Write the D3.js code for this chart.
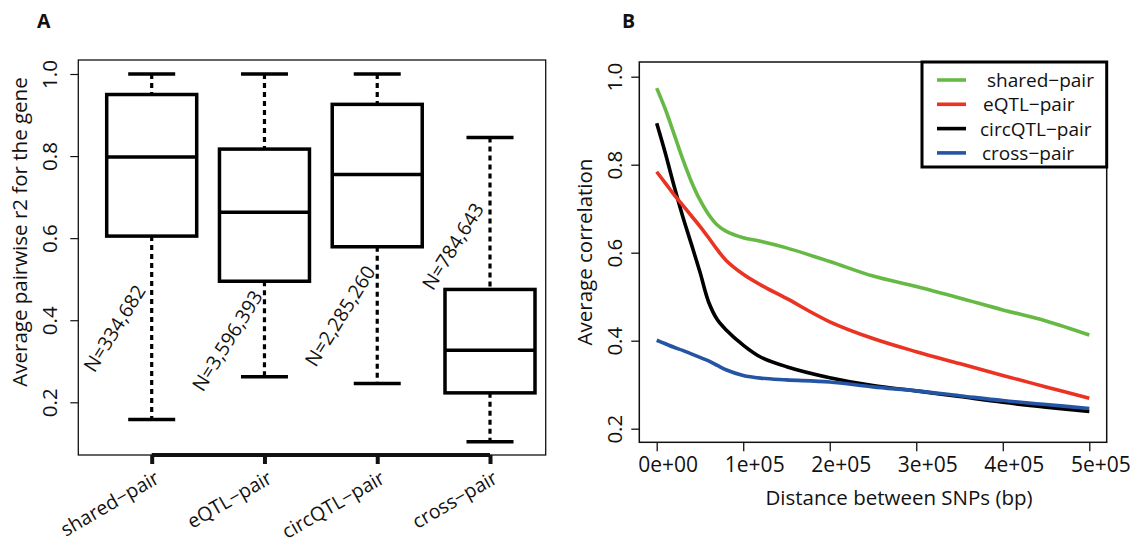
<!DOCTYPE html>
<html>
<head>
<meta charset="utf-8">
<script src="https://cdn.jsdelivr.net/npm/d3@7"></script>
<style>
  body { margin: 0; background: #fff; }
  svg text { font-family: "Open Sans", "Noto Sans", sans-serif; fill: #111; }
  .panel { font-weight: bold; font-size: 19.5px; }
</style>
</head>
<body>
<svg width="1133" height="543"></svg>
<script>
// ---- panel A: boxplot data ----
var groups = ["shared\u2212pair", "eQTL\u2212pair", "circQTL\u2212pair", "cross\u2212pair"];
var nLabels = ["N=334,682", "N=3,596,393", "N=2,285,260", "N=784,643"];
var nLabelAt = [0.38, 0.35, 0.41, 0.58];   // r2 value where each N label sits
var whiskerLo = [0.158, 0.262, 0.246, 0.104];
var q1 = [0.605, 0.495, 0.579, 0.223];
var median = [0.798, 0.663, 0.755, 0.327];
var q3 = [0.950, 0.817, 0.926, 0.475];
var whiskerHi = [1.0, 1.0, 1.0, 0.845];
var yTicksA = [0.2, 0.4, 0.6, 0.8, 1.0];

// ---- panel B: correlation vs distance ----
var distance = [0, 10000, 20000, 30000, 40000, 50000, 60000, 70000, 80000, 100000,
  120000, 150000, 200000, 250000, 300000, 350000, 400000, 450000, 500000];
var sharedPair = [0.974, 0.926, 0.870, 0.813, 0.762, 0.720, 0.687, 0.663, 0.649, 0.634,
  0.626, 0.611, 0.580, 0.547, 0.523, 0.497, 0.470, 0.445, 0.413];
var eqtlPair = [0.784, 0.758, 0.732, 0.708, 0.684, 0.660, 0.634, 0.607, 0.583, 0.551,
  0.527, 0.496, 0.443, 0.405, 0.375, 0.348, 0.321, 0.295, 0.269];
var circPair = [0.894, 0.826, 0.752, 0.683, 0.620, 0.556, 0.488, 0.448, 0.425, 0.390,
  0.363, 0.341, 0.316, 0.298, 0.286, 0.273, 0.260, 0.249, 0.239];
var crossPair = [0.401, 0.393, 0.385, 0.378, 0.370, 0.362, 0.354, 0.344, 0.334, 0.321,
  0.315, 0.311, 0.306, 0.295, 0.286, 0.275, 0.264, 0.255, 0.246];
var seriesNames = ["shared\u2212pair", "eQTL\u2212pair", "circQTL\u2212pair", "cross\u2212pair"];
var seriesColors = ["#67b946", "#ea3323", "#000000", "#2455a4"];
var xTicksB = [0, 100000, 200000, 300000, 400000, 500000];
var yTicksB = [0.2, 0.4, 0.6, 0.8, 1.0];

var fs = 20.5;
const svg = d3.select('svg');

// ================= panel A =================
var A = { left: 78.3, right: 545.7, top: 60, bottom: 455 };
const gA = svg.append('g');

const xA = d3.scaleLinear().domain([0, groups.length - 1]).range([151.7, 490]);
const yA = d3.scaleLinear().domain([0.2, 1.0]).range([402.3, 74]);
var boxW = 90, capW = 47;

gA.append('text').attr('class', 'panel').attr('x', 37).attr('y', 28).text('A');

// frame
gA.append('rect')
  .attr('x', A.left).attr('y', A.top)
  .attr('width', A.right - A.left).attr('height', A.bottom - A.top)
  .attr('fill', 'none').attr('stroke', '#111').attr('stroke-width', 1.3);

// y axis
const yAxisA = d3.axisLeft(yA).tickValues(yTicksA).tickSize(8).tickFormat(d3.format('.1f'));
const yAxisGA = gA.append('g').attr('transform', `translate(${A.left},0)`).call(yAxisA);
yAxisGA.select('.domain').remove();
yAxisGA.selectAll('line').attr('stroke', '#111').attr('stroke-width', 1.2);
yAxisGA.selectAll('.tick text')
  .attr('font-size', fs)
  .attr('x', 0).attr('y', 0).attr('dy', null)
  .attr('text-anchor', 'middle')
  .attr('transform', `translate(${57 - A.left},0) rotate(-90)`);

gA.append('text')
  .attr('transform', 'translate(27,232) rotate(-90)')
  .attr('text-anchor', 'middle')
  .attr('font-size', fs)
  .text('Average pairwise r2 for the gene');

// x axis: thick line from first to last tick
const xAxisA = d3.axisBottom(xA).tickValues(d3.range(groups.length)).tickSize(9).tickFormat('');
const xAxisGA = gA.append('g').attr('transform', `translate(0,${A.bottom})`).call(xAxisA);
xAxisGA.select('.domain').attr('stroke', '#111').attr('stroke-width', 4)
  .attr('d', `M${xA(0)},0H${xA(groups.length - 1)}`);
xAxisGA.selectAll('.tick line').attr('stroke', '#111').attr('stroke-width', 4);

gA.selectAll('.xlab').data(groups).enter().append('text')
  .attr('class', 'xlab')
  .attr('transform', (d, i) => `translate(${xA(i) + 9},${482}) rotate(-30)`)
  .attr('text-anchor', 'end')
  .attr('font-size', 19.5)
  .text(d => d);

// boxes
var boxes = gA.selectAll('.box').data(groups).enter().append('g').attr('class', 'box');

boxes.append('line')
  .attr('x1', (d, i) => xA(i)).attr('x2', (d, i) => xA(i))
  .attr('y1', (d, i) => yA(whiskerHi[i])).attr('y2', (d, i) => yA(q3[i]))
  .attr('stroke', '#000').attr('stroke-width', 3.2).attr('stroke-dasharray', '5,4');
boxes.append('line')
  .attr('x1', (d, i) => xA(i)).attr('x2', (d, i) => xA(i))
  .attr('y1', (d, i) => yA(q1[i])).attr('y2', (d, i) => yA(whiskerLo[i]))
  .attr('stroke', '#000').attr('stroke-width', 3.2).attr('stroke-dasharray', '5,4');

[whiskerHi, whiskerLo].forEach(function (arr) {
  boxes.append('line')
    .attr('x1', (d, i) => xA(i) - capW / 2).attr('x2', (d, i) => xA(i) + capW / 2)
    .attr('y1', (d, i) => yA(arr[i])).attr('y2', (d, i) => yA(arr[i]))
    .attr('stroke', '#000').attr('stroke-width', 3.5);
});

boxes.append('rect')
  .attr('x', (d, i) => xA(i) - boxW / 2)
  .attr('y', (d, i) => yA(q3[i]))
  .attr('width', boxW)
  .attr('height', (d, i) => yA(q1[i]) - yA(q3[i]))
  .attr('fill', '#fff').attr('stroke', '#000').attr('stroke-width', 3.5);

boxes.append('line')
  .attr('x1', (d, i) => xA(i) - boxW / 2).attr('x2', (d, i) => xA(i) + boxW / 2)
  .attr('y1', (d, i) => yA(median[i])).attr('y2', (d, i) => yA(median[i]))
  .attr('stroke', '#000').attr('stroke-width', 3.5);

// N labels
boxes.append('text')
  .attr('transform', (d, i) => `translate(${xA(i) - 37},${yA(nLabelAt[i])}) rotate(-58)`)
  .attr('text-anchor', 'middle')
  .attr('dy', '0.35em')
  .attr('font-size', 19.5)
  .text((d, i) => nLabels[i]);

// ================= panel B =================
var B = { left: 639.3, right: 1106.7, top: 62, bottom: 442.3 };
const gB = svg.append('g');

const xB = d3.scaleLinear().domain([0, 500000]).range([656.7, 1089.3]);
const yB = d3.scaleLinear().domain([0.2, 1.0]).range([428.7, 76.7]);

gB.append('text').attr('class', 'panel').attr('x', 622).attr('y', 28).text('B');

gB.append('rect')
  .attr('x', B.left).attr('y', B.top)
  .attr('width', B.right - B.left).attr('height', B.bottom - B.top)
  .attr('fill', 'none').attr('stroke', '#111').attr('stroke-width', 1.5);

const xAxisB = d3.axisBottom(xB).tickValues(xTicksB).tickSize(9)
  .tickFormat(d => (d / 100000) + 'e+' + (d === 0 ? '00' : '05'));
const xAxisGB = gB.append('g').attr('transform', `translate(0,${B.bottom})`).call(xAxisB);
xAxisGB.select('.domain').remove();
xAxisGB.selectAll('line').attr('stroke', '#111').attr('stroke-width', 1.3);
xAxisGB.selectAll('text').attr('font-size', 21).attr('x', 11).attr('y', 29.5).attr('dy', 0);

const yAxisB = d3.axisLeft(yB).tickValues(yTicksB).tickSize(8).tickFormat(d3.format('.1f'));
const yAxisGB = gB.append('g').attr('transform', `translate(${B.left},0)`).call(yAxisB);
yAxisGB.select('.domain').remove();
yAxisGB.selectAll('line').attr('stroke', '#111').attr('stroke-width', 1.3);
yAxisGB.selectAll('.tick text')
  .attr('x', 0).attr('dy', null)
  .attr('font-size', fs)
  .attr('text-anchor', 'middle')
  .attr('transform', `translate(${622 - B.left},0) rotate(-90)`);

gB.append('text')
  .attr('transform', 'translate(592,252) rotate(-90)')
  .attr('text-anchor', 'middle')
  .attr('font-size', fs)
  .text('Average correlation');

gB.append('text')
  .attr('x', 899).attr('y', 505)
  .attr('text-anchor', 'middle')
  .attr('font-size', fs)
  .text('Distance between SNPs (bp)');

var allSeries = [sharedPair, eqtlPair, circPair, crossPair];
const line = d3.line()
  .x((d, i) => xB(distance[i]))
  .y(d => yB(d))
  .curve(d3.curveCatmullRom.alpha(0.5));

// draw order: green, black, red, blue
[0, 2, 1, 3].forEach(function (k) {
  gB.append('path')
    .datum(allSeries[k])
    .attr('d', line)
    .attr('fill', 'none')
    .attr('stroke', seriesColors[k])
    .attr('stroke-width', 3.6)
    .attr('stroke-linejoin', 'round');
});

// legend
var leg = gB.append('g');
leg.append('rect')
  .attr('x', 922).attr('y', 62)
  .attr('width', B.right - 922).attr('height', 105)
  .attr('fill', '#fff').attr('stroke', '#000').attr('stroke-width', 3);
var legRows = leg.selectAll('.row').data(seriesNames).enter().append('g')
  .attr('transform', (d, i) => `translate(0,${80 + i * 24.3})`);
legRows.append('line')
  .attr('x1', 937).attr('x2', 966).attr('y1', 0).attr('y2', 0)
  .attr('stroke', (d, i) => seriesColors[i]).attr('stroke-width', 3.6);
legRows.append('text')
  .attr('x', (d, i) => [987, 983, 980, 982][i]).attr('y', 7)
  .attr('font-size', 19)
  .text(d => d);
</script>
</body>
</html>
